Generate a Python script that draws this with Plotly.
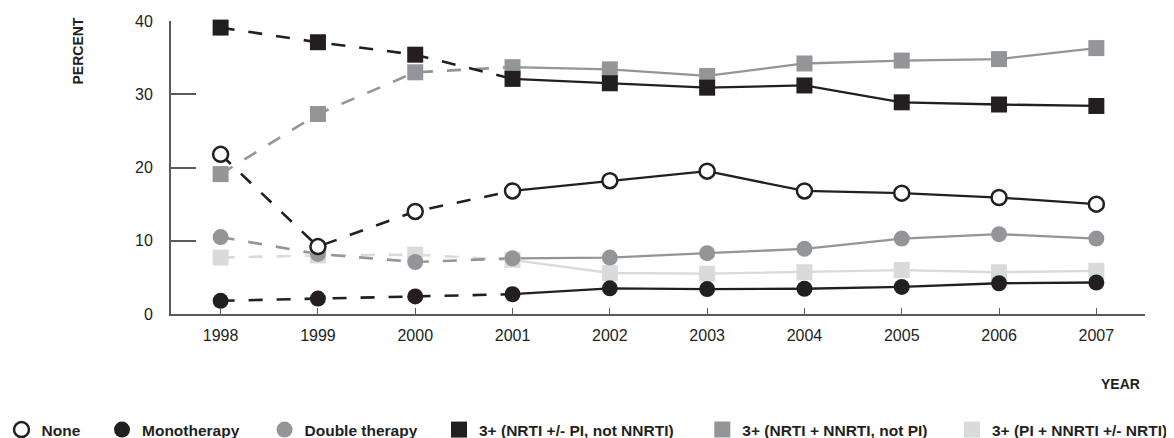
import plotly.graph_objects as go

years = [1998, 1999, 2000, 2001, 2002, 2003, 2004, 2005, 2006, 2007]

none_vals = [21.8, 9.2, 14.0, 16.8, 18.2, 19.5, 16.8, 16.5, 15.9, 15.0]
mono_vals = [1.8, 2.1, 2.4, 2.7, 3.5, 3.4, 3.45, 3.7, 4.2, 4.3]
double_vals = [10.5, 8.2, 7.1, 7.6, 7.7, 8.3, 8.9, 10.3, 10.9, 10.3]
nrti_pi_vals = [39.1, 37.1, 35.4, 32.1, 31.5, 30.9, 31.2, 28.9, 28.6, 28.4]
nrti_nnrti_vals = [19.1, 27.3, 33.0, 33.7, 33.4, 32.5, 34.2, 34.6, 34.8, 36.3]
pi_nnrti_vals = [7.7, 8.0, 8.1, 7.4, 5.6, 5.5, 5.7, 6.0, 5.7, 5.9]

names = ["None", "Monotherapy", "Double therapy",
         "3+ (NRTI +/- PI, not NNRTI)", "3+ (NRTI + NNRTI, not PI)",
         "3+ (PI + NNRTI +/- NRTI)"]

BLACK = "#231f20"
GRAY = "#939598"
LIGHT = "#d9dadb"
AXIS = "#58595b"
FONT = "Liberation Sans, Arial, Helvetica, sans-serif"

series = [
    dict(name=names[0], y=none_vals, color=BLACK, symbol="circle",
         fill="white", lw=2.5, size=15),
    dict(name=names[1], y=mono_vals, color=BLACK, symbol="circle",
         fill=BLACK, lw=0, size=16),
    dict(name=names[2], y=double_vals, color=GRAY, symbol="circle",
         fill=GRAY, lw=0, size=16),
    dict(name=names[3], y=nrti_pi_vals, color=BLACK, symbol="square",
         fill=BLACK, lw=0, size=16),
    dict(name=names[4], y=nrti_nnrti_vals, color=GRAY, symbol="square",
         fill=GRAY, lw=0, size=16),
    dict(name=names[5], y=pi_nnrti_vals, color=LIGHT, symbol="square",
         fill=LIGHT, lw=0, size=16),
]

legend_centers = [16, 116.5, 279, 453.5, 716.8, 966.4]  # symbol centers in px

fig = go.Figure()

split = years.index(2001)
for s in reversed(series):
    fig.add_trace(go.Scatter(
        x=years[:split + 1], y=s["y"][:split + 1], mode="lines",
        line=dict(color=s["color"], width=2.6, dash="14px,14px"),
        showlegend=False, hoverinfo="skip"))
    fig.add_trace(go.Scatter(
        x=years[split:], y=s["y"][split:], mode="lines",
        line=dict(color=s["color"], width=2.3),
        showlegend=False, hoverinfo="skip"))

legend_ids = ["legend", "legend2", "legend3", "legend4", "legend5", "legend6"]
for i in reversed(range(len(series))):
    s = series[i]
    fig.add_trace(go.Scatter(
        x=years, y=s["y"], mode="markers", name=s["name"],
        legend=legend_ids[i], cliponaxis=False,
        marker=dict(symbol=s["symbol"], size=s["size"], color=s["fill"],
                    line=dict(color=BLACK if s["lw"] else s["color"],
                              width=s["lw"]))))

L, R, T, B = 163, 37, 13, 132
W, H = 1174, 438
pw = W - L - R
ph = H - T - B

layout_legends = {}
for i, lid in enumerate(legend_ids):
    layout_legends[lid] = dict(
        x=(legend_centers[i] - 22.5 - L) / pw, xanchor="left",
        y=(306 - 422) / ph, yanchor="middle",
        orientation="h", bgcolor="rgba(0,0,0,0)", borderwidth=0,
        font=dict(family=FONT, size=15.5, color=BLACK, weight="bold"),
        itemwidth=30)

fig.update_layout(
    width=W, height=H,
    margin=dict(l=L, r=R, t=T, b=B, autoexpand=False),
    paper_bgcolor="white", plot_bgcolor="white",
    font=dict(family=FONT, color=BLACK),
    xaxis=dict(range=[1997.49, 2007.5], tickvals=years,
               ticktext=[str(y) for y in years],
               showline=True, linecolor=AXIS, linewidth=2,
               ticks="inside", ticklen=6, tickwidth=1.2, tickcolor=AXIS,
               showgrid=False, zeroline=False,
               tickfont=dict(family=FONT, size=16, color=BLACK),
               ticklabelstandoff=6),
    yaxis=dict(range=[0, 40], tickvals=[0, 10, 20, 30, 40],
               showline=True, linecolor=AXIS, linewidth=2,
               ticks="inside", ticklen=25, tickwidth=2, tickcolor=AXIS,
               showgrid=False, zeroline=False,
               tickfont=dict(family=FONT, size=16, color=BLACK),
               ticklabelstandoff=13),
    annotations=[
        dict(text="<b>PERCENT</b>", xref="paper", yref="paper",
             x=(69 - L) / pw, y=(306 - 43.5) / ph, xanchor="center",
             yanchor="middle", textangle=-90, showarrow=False,
             font=dict(family=FONT, size=14, color=BLACK)),
        dict(text="<b>YEAR</b>", xref="paper", yref="paper",
             x=(1112.5 - L) / pw, y=(306 - 375.5) / ph, xanchor="center",
             yanchor="middle", showarrow=False,
             font=dict(family=FONT, size=14, color=BLACK)),
    ],
    **layout_legends,
)

fig.write_html("out.html")
